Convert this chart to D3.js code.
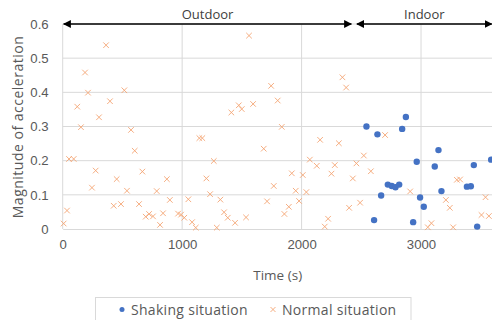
<!DOCTYPE html>
<html>
<head>
<meta charset="utf-8">
<script src="https://cdn.jsdelivr.net/npm/d3@7"></script>
<style>
  html, body { margin: 0; padding: 0; background: #fff; }
  svg { display: block; font-family: "Open Sans", "Noto Sans", sans-serif; }
</style>
</head>
<body>
<svg id="chart"></svg>
<script>
// time (s) and magnitude for the normal (orange x) samples
const normalTime = [8, 36, 53, 92, 122, 153, 187, 212, 245, 276, 304, 363, 396, 427, 452, 488, 516, 538, 572, 603,
  639, 667, 695, 723, 756, 787, 815, 840, 872, 897, 966, 991, 1018, 1052, 1083, 1114, 1144, 1169, 1203, 1234,
  1265, 1290, 1320, 1351, 1382, 1412, 1443, 1474, 1499, 1535, 1560, 1594, 1683, 1711, 1745, 1767, 1800, 1834,
  1856, 1893, 1918, 1951, 1979, 2010, 2040, 2069, 2127, 2155, 2194, 2222, 2250, 2278, 2312, 2342, 2373, 2398,
  2429, 2459, 2490, 2521, 2580, 2699, 2909, 3057, 3087, 3208, 3241, 3269, 3300, 3327, 3506, 3540, 3568];
const normalValue = [0.016, 0.054, 0.205, 0.205, 0.358, 0.298, 0.458, 0.399, 0.121, 0.171, 0.327, 0.538, 0.374, 0.068, 0.146, 0.073, 0.406, 0.112, 0.290, 0.229,
  0.073, 0.168, 0.036, 0.044, 0.037, 0.111, 0.012, 0.046, 0.146, 0.085, 0.045, 0.042, 0.033, 0.087, 0.020, 0.004, 0.266, 0.266, 0.148, 0.102,
  0.199, 0.004, 0.086, 0.049, 0.033, 0.341, 0.018, 0.362, 0.351, 0.034, 0.566, 0.366, 0.235, 0.081, 0.419, 0.126, 0.376, 0.299,
  0.044, 0.065, 0.163, 0.112, 0.082, 0.158, 0.108, 0.203, 0.185, 0.261, 0.007, 0.030, 0.162, 0.187, 0.251, 0.444, 0.414, 0.062,
  0.148, 0.192, 0.077, 0.215, 0.169, 0.275, 0.110, 0.005, 0.017, 0.085, 0.062, 0.005, 0.144, 0.145, 0.041, 0.093, 0.038];

// shaking (blue dot) samples
const shakingTime = [2543, 2607, 2635, 2666, 2722, 2755, 2786, 2817, 2842, 2873, 2934, 2964, 2992, 3023, 3115, 3146, 3171, 3384, 3417, 3442, 3470, 3587];
const shakingValue = [0.300, 0.026, 0.277, 0.098, 0.130, 0.126, 0.122, 0.130, 0.293, 0.328, 0.020, 0.197, 0.092, 0.065, 0.183, 0.231, 0.111, 0.124, 0.125, 0.187, 0.007, 0.203];

const xTicks = [0, 1000, 2000, 3000];
const yTicks = [0, 0.1, 0.2, 0.3, 0.4, 0.5, 0.6];

// annotated phases along the top
const phaseNames = ["Outdoor", "Indoor"];
const phaseStart = [0, 2455];
const phaseEnd = [2425, 3600];

const seriesNames = ["Shaking situation", "Normal situation"];

const width = 492;
const height = 320;
const marginTop = 24;
const marginLeft = 62.7;
const plotRight = 492.7;
const plotBottom = 229;

const blue = "#4472C4";
const orange = "#F4A574";
const grid = "#d9d9d9";
const textColor = "#595959";

const x = d3.scaleLinear().domain([0, 3600]).range([marginLeft, plotRight]);
const y = d3.scaleLinear().domain([0, 0.6]).range([plotBottom, marginTop]);

const svg = d3.select("#chart")
    .attr("width", width)
    .attr("height", height);

// gridlines
svg.append("g")
    .selectAll("line")
    .data(yTicks.slice(1))
    .join("line")
    .attr("x1", marginLeft).attr("x2", plotRight)
    .attr("y1", d => y(d)).attr("y2", d => y(d))
    .attr("stroke", grid).attr("stroke-width", 1);

svg.append("g")
    .selectAll("line")
    .data(xTicks)
    .join("line")
    .attr("x1", d => x(d)).attr("x2", d => x(d))
    .attr("y1", y(0)).attr("y2", y(0.6))
    .attr("stroke", grid).attr("stroke-width", 1);

// x-axis
const xAxis = svg.append("g")
    .attr("transform", `translate(0,${plotBottom})`)
    .call(d3.axisBottom(x).tickValues(xTicks).tickSize(0).tickPadding(11).tickFormat(d3.format("d")));
xAxis.select(".domain").attr("stroke", grid);
xAxis.selectAll("text").attr("fill", textColor).attr("font-size", 13.2);

// y-axis
const yAxis = svg.append("g")
    .attr("transform", `translate(${marginLeft},0)`)
    .call(d3.axisLeft(y).tickValues(yTicks).tickSize(0).tickPadding(14).tickFormat(d => d === 0 ? "0" : d3.format(".1f")(d)));
yAxis.select(".domain").remove();
yAxis.selectAll("text").attr("fill", textColor).attr("font-size", 13.2);

// axis titles
svg.append("text")
    .attr("x", (marginLeft + plotRight) / 2)
    .attr("y", 280)
    .attr("text-anchor", "middle")
    .attr("fill", textColor)
    .attr("font-size", 13.5)
    .text("Time (s)");

svg.append("text")
    .attr("transform", `translate(22.5,${(marginTop + plotBottom) / 2 + 0.5}) rotate(-90)`)
    .attr("text-anchor", "middle")
    .attr("fill", textColor)
    .attr("font-size", 14)
    .attr("letter-spacing", 0.5)
    .text("Magnitude of acceleration");

// phase arrows
const defs = svg.append("defs");
defs.append("marker")
    .attr("id", "head")
    .attr("viewBox", "0 0 10 10")
    .attr("refX", 9).attr("refY", 5)
    .attr("markerWidth", 5).attr("markerHeight", 5)
    .attr("orient", "auto-start-reverse")
    .append("path")
    .attr("d", "M0,0 L10,5 L0,10 Z")
    .attr("fill", "#000");

const phases = phaseNames.map((name, i) => ({ name, start: phaseStart[i], end: phaseEnd[i] }));

svg.append("g")
    .selectAll("line")
    .data(phases)
    .join("line")
    .attr("x1", d => x(d.start) + 1).attr("x2", d => x(d.end) - 1)
    .attr("y1", y(0.6)).attr("y2", y(0.6))
    .attr("stroke", "#000").attr("stroke-width", 1.6)
    .attr("marker-start", "url(#head)")
    .attr("marker-end", "url(#head)");

svg.append("g")
    .selectAll("text")
    .data(phases)
    .join("text")
    .attr("x", d => x((d.start + d.end) / 2))
    .attr("y", 19)
    .attr("text-anchor", "middle")
    .attr("fill", "#404040")
    .attr("font-size", 13)
    .text(d => d.name);

// normal samples (x markers)
const cross = d3.symbol().type(d3.symbolX).size(22);
const normal = normalTime.map((t, i) => ({ t, v: normalValue[i] }));
svg.append("g")
    .selectAll("path")
    .data(normal)
    .join("path")
    .attr("d", cross)
    .attr("transform", d => `translate(${x(d.t)},${y(d.v)})`)
    .attr("fill", "none")
    .attr("stroke", orange)
    .attr("stroke-width", 0.9);

// shaking samples (dots)
const shaking = shakingTime.map((t, i) => ({ t, v: shakingValue[i] }));
svg.append("g")
    .selectAll("circle")
    .data(shaking)
    .join("circle")
    .attr("cx", d => x(d.t))
    .attr("cy", d => y(d.v))
    .attr("r", 3.2)
    .attr("fill", blue);

// legend
const legend = svg.append("g");
legend.append("rect")
    .attr("x", 95.5).attr("y", 297.5)
    .attr("width", 315.5).attr("height", 30)
    .attr("fill", "#fff")
    .attr("stroke", grid);

const legendX = [122, 273];
const item = legend.selectAll("g.item")
    .data(seriesNames)
    .join("g")
    .attr("class", "item")
    .attr("transform", (d, i) => `translate(${legendX[i]},309.5)`);

item.filter((d, i) => i === 0).append("circle").attr("r", 2.5).attr("fill", blue);
item.filter((d, i) => i === 1).append("path")
    .attr("d", d3.symbol().type(d3.symbolX).size(18))
    .attr("fill", "none").attr("stroke", orange).attr("stroke-width", 0.9);

item.append("text")
    .attr("x", 9)
    .attr("y", 5)
    .attr("fill", textColor)
    .attr("font-size", 14)
    .attr("letter-spacing", 0.3)
    .text(d => d);
</script>
</body>
</html>
